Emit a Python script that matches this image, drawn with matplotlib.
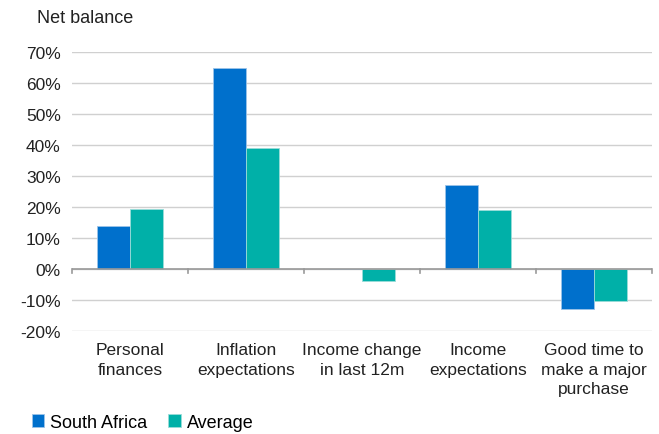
import matplotlib.pyplot as plt
import numpy as np
from matplotlib.ticker import FuncFormatter

categories = ['Personal\nfinances', 'Inflation\nexpectations', 'Income change\nin last 12m',
              'Income\nexpectations', 'Good time to\nmake a major\npurchase']
south_africa = [14, 65, 0, 27, -13]
average = [19.5, 39, -4, 19, -10.3]

plt.rcParams['font.family'] = ['Liberation Sans', 'DejaVu Sans']
plt.rcParams['font.size'] = 12

fig = plt.figure(figsize=(6.59, 4.35), dpi=100)
ax = fig.add_axes([0.109, 0.237, 0.880, 0.641])

x = np.arange(len(categories))
w = 0.285
ax.bar(x - w/2, south_africa, w, color='#0070cc', edgecolor='#9cc3e8', linewidth=0.6, label='South Africa', zorder=3)
ax.bar(x + w/2, average, w, color='#00b0a8', edgecolor='#9adcd8', linewidth=0.6, label='Average', zorder=3)

ax.set_ylim(-20, 70)
ax.set_xlim(-0.5, len(categories) - 0.5)
ax.set_yticks(range(-20, 71, 10))
ax.yaxis.set_major_formatter(FuncFormatter(lambda v, p: '%d%%' % v))
ax.grid(axis='y', color='#d0d0d0', linewidth=1, zorder=0)
for s in ax.spines.values():
    s.set_visible(False)
ax.tick_params(axis='y', length=0, pad=8, labelcolor='#222222', labelsize=12.5)
ax.set_xticks([])
ax.axhline(0, color='#999999', linewidth=1.2, zorder=4)
for b in np.arange(-0.5, len(categories), 1):
    ax.plot([b, b], [0, -1.3], color='#999999', linewidth=1.2, zorder=4, clip_on=False)

for i, c in enumerate(categories):
    ax.text(i, -23.5, c, ha='center', va='top', fontsize=12.5, color='#222222', linespacing=1.4)

fig.text(0.056, 0.958, 'Net balance', fontsize=13, va='center', color='#222222')
fig.legend(loc='center left', bbox_to_anchor=(0.048, 0.027), ncol=2, frameon=False,
           handlelength=0.7, handleheight=0.7, handletextpad=0.3, columnspacing=1.2, fontsize=13,
           borderaxespad=0, borderpad=0)

fig.savefig('out.png', dpi=100)
